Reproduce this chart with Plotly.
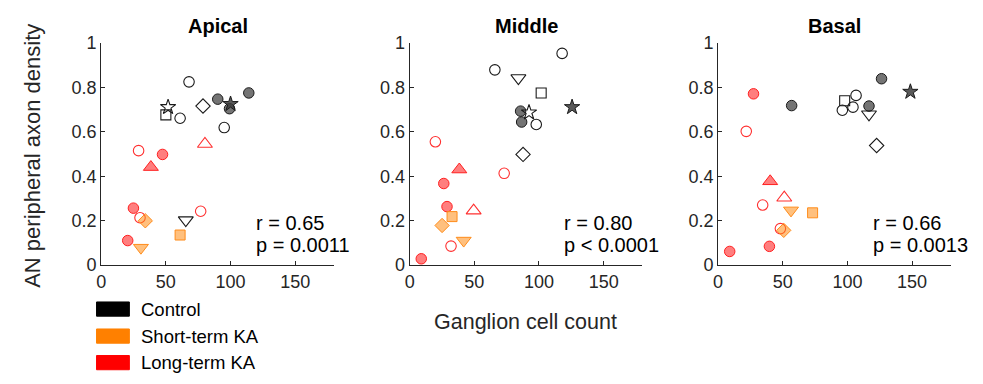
import plotly.graph_objects as go

# ---------------- data ----------------
panels = ["Apical", "Middle", "Basal"]

# Apical
apical_x = [90.1, 99.2, 114.1, 67.9, 100.0, 51.7, 50.0, 61.0, 78.7, 95.1, 65.4,
            28.9, 47.4, 38.4, 80.2, 24.9, 30.0, 76.9, 20.5,
            34.1, 30.7, 61.0]
apical_y = [0.747, 0.704, 0.775, 0.825, 0.725, 0.711, 0.676, 0.661, 0.716, 0.619, 0.202,
            0.515, 0.498, 0.441, 0.545, 0.256, 0.213, 0.242, 0.110,
            0.199, 0.078, 0.135]
apical_group = ["C"] * 11 + ["L"] * 8 + ["S"] * 3
apical_shape = ["circle", "circle", "circle", "circle", "star", "star", "square", "circle", "diamond", "circle", "triangle-down",
                "circle", "circle", "triangle-up", "triangle-up", "circle", "circle", "circle", "circle",
                "diamond", "triangle-down", "square"]
apical_filled = [1, 1, 1, 0, 1, 0, 0, 0, 0, 0, 0,
                 0, 1, 1, 0, 1, 0, 0, 1,
                 1, 1, 1]

# Middle
middle_x = [85.8, 86.6, 65.9, 117.9, 84.1, 101.7, 125.6, 92.3, 97.9, 87.7,
            19.9, 38.4, 26.4, 73.1, 28.9, 49.5, 32.0, 9.0,
            32.8, 25.1, 41.8]
middle_y = [0.693, 0.644, 0.879, 0.953, 0.842, 0.775, 0.711, 0.687, 0.633, 0.498,
            0.555, 0.430, 0.367, 0.413, 0.263, 0.245, 0.085, 0.028,
            0.218, 0.178, 0.110]
middle_group = ["C"] * 10 + ["L"] * 8 + ["S"] * 3
middle_shape = ["circle", "circle", "circle", "circle", "triangle-down", "square", "star", "star", "circle", "diamond",
                "circle", "triangle-up", "circle", "circle", "circle", "triangle-up", "circle", "circle",
                "square", "diamond", "triangle-down"]
middle_filled = [1, 1, 0, 0, 0, 0, 1, 0, 0, 0,
                 0, 1, 1, 0, 1, 0, 0, 1,
                 1, 1, 1]

# Basal
basal_x = [126.4, 56.9, 116.7, 148.7, 97.9, 106.7, 104.3, 96.1, 116.7, 122.6,
           27.4, 21.8, 40.3, 51.2, 34.5, 48.2, 39.7, 9.0,
           56.4, 73.1, 50.8]
basal_y = [0.839, 0.718, 0.716, 0.780, 0.740, 0.764, 0.711, 0.697, 0.679, 0.538,
           0.771, 0.602, 0.377, 0.303, 0.270, 0.164, 0.084, 0.061,
           0.246, 0.235, 0.156]
basal_group = ["C"] * 10 + ["L"] * 8 + ["S"] * 3
basal_shape = ["circle", "circle", "circle", "star", "square", "circle", "circle", "circle", "triangle-down", "diamond",
               "circle", "circle", "triangle-up", "triangle-up", "circle", "circle", "circle", "circle",
               "triangle-down", "square", "diamond"]
basal_filled = [1, 1, 1, 1, 0, 0, 0, 0, 0, 0,
                1, 0, 1, 0, 0, 0, 1, 1,
                1, 1, 1]

r_text = ["r = 0.65", "r = 0.80", "r = 0.66"]
p_text = ["p = 0.0011", "p < 0.0001", "p = 0.0013"]

legend_labels = ["Control", "Short-term KA", "Long-term KA"]
legend_colors = ["#000000", "#ff8000", "#ff0000"]

x_ticks = [0, 50, 100, 150]
y_ticks = [0, 0.2, 0.4, 0.6, 0.8, 1]

# ---------------- styles ----------------
edge = {"C": "#1a1a1a", "S": "#ff8c1a", "L": "#ff2020"}
fill = {"C": "rgba(70,70,70,0.75)", "S": "rgba(255,140,20,0.55)", "L": "rgba(255,40,40,0.6)"}
star_fill = "rgba(60,60,60,0.85)"
open_line = {"C": "#1a1a1a", "S": "#ff8000", "L": "#ff3030"}
sizes = {"circle": 10.5, "square": 10, "star": 11.5, "diamond": 11, "triangle-up": 13, "triangle-down": 13}

FONT = "Liberation Sans, Arial, sans-serif"
AX = "#262626"

x_domains = [(96.7 / 983, 330.7 / 983), (406.7 / 983, 640.7 / 983), (716.7 / 983, 950.7 / 983)]
y_domain = ((384 - 269) / 384, (384 - 34.8) / 384)
XR = [0, 180]

fig = go.Figure()

data_sets = [
    (apical_x, apical_y, apical_group, apical_shape, apical_filled),
    (middle_x, middle_y, middle_group, middle_shape, middle_filled),
    (basal_x, basal_y, basal_group, basal_shape, basal_filled),
]

for i, (xs, ys, gs, ss, fs) in enumerate(data_sets):
    xa = "x" if i == 0 else f"x{i+1}"
    ya = "y" if i == 0 else f"y{i+1}"
    order = sorted(range(len(xs)), key=lambda k: 0 if (gs[k] == "C" and fs[k] and ss[k] == "circle") else 1)
    for k in order:
        g, s, f = gs[k], ss[k], fs[k]
        size = sizes[s]
        if f:
            col = star_fill if s == "star" else fill[g]
            marker = dict(symbol=s, size=size, color=col,
                          line=dict(color=edge[g], width=1))
        else:
            marker = dict(symbol=s + "-open", size=size, color=open_line[g],
                          line=dict(color=open_line[g], width=1.1))
        fig.add_trace(go.Scatter(x=[xs[k]], y=[ys[k]], mode="markers", marker=marker,
                                 xaxis=xa, yaxis=ya, showlegend=False, hoverinfo="skip"))

layout = dict(
    width=983, height=384, margin=dict(l=0, r=0, t=0, b=0),
    paper_bgcolor="white", plot_bgcolor="white",
    font=dict(family=FONT, color=AX),
    showlegend=False,
)
annotations = []
shapes = []
for i in range(3):
    sfx = "" if i == 0 else str(i + 1)
    layout["xaxis" + sfx] = dict(
        domain=list(x_domains[i]), range=XR, anchor="y" + sfx,
        tickvals=x_ticks, ticks="inside", ticklen=4, tickcolor=AX,
        showline=True, linecolor=AX, linewidth=1, showgrid=False, zeroline=False,
        tickfont=dict(size=18, color=AX, family=FONT),
    )
    layout["yaxis" + sfx] = dict(
        domain=list(y_domain), range=[0, 1], anchor="x" + sfx,
        tickvals=y_ticks, ticks="inside", ticklen=4, tickcolor=AX,
        showline=True, linecolor=AX, linewidth=1, showgrid=False, zeroline=False,
        tickfont=dict(size=18, color=AX, family=FONT),
    )
    xc = (x_domains[i][0] + x_domains[i][1]) / 2
    annotations.append(dict(text="<b>" + panels[i] + "</b>", x=xc, y=(384 - 17) / 384, xref="paper", yref="paper",
                            showarrow=False, font=dict(size=20, color="#000000", family=FONT),
                            xanchor="center", yanchor="middle"))
    annotations.append(dict(text=r_text[i], x=118, y=0.19, xref="x" + sfx, yref="y" + sfx,
                            showarrow=False, font=dict(size=20, color="#000000", family=FONT),
                            xanchor="left", yanchor="middle"))
    annotations.append(dict(text=p_text[i], x=118, y=0.088, xref="x" + sfx, yref="y" + sfx,
                            showarrow=False, font=dict(size=20, color="#000000", family=FONT),
                            xanchor="left", yanchor="middle"))

annotations.append(dict(text="AN peripheral axon density", x=28 / 983, y=(384 - 154) / 384,
                        xref="paper", yref="paper", textangle=-90, showarrow=False,
                        font=dict(size=22, color=AX, family=FONT), xanchor="center", yanchor="middle"))
annotations.append(dict(text="Ganglion cell count", x=523 / 983, y=(384 - 329) / 384,
                        xref="paper", yref="paper", showarrow=False,
                        font=dict(size=21.5, color=AX, family=FONT), xanchor="center", yanchor="middle"))

legend_y = [315.5, 344, 372]
for lab, col, yc in zip(legend_labels, legend_colors, legend_y):
    shapes.append(dict(type="rect", xref="paper", yref="paper",
                       x0=92 / 983, x1=125 / 983, y0=(384 - yc - 7.5) / 384, y1=(384 - yc + 7.5) / 384,
                       fillcolor=col, line=dict(color=col, width=1)))
    annotations.append(dict(text=lab, x=135 / 983, y=(384 - yc) / 384, xref="paper", yref="paper",
                            showarrow=False, xanchor="left", yanchor="middle",
                            font=dict(size=18.5, color="#000000", family=FONT)))

layout["annotations"] = annotations
layout["shapes"] = shapes
fig.update_layout(**layout)
fig.write_html("out.html")
